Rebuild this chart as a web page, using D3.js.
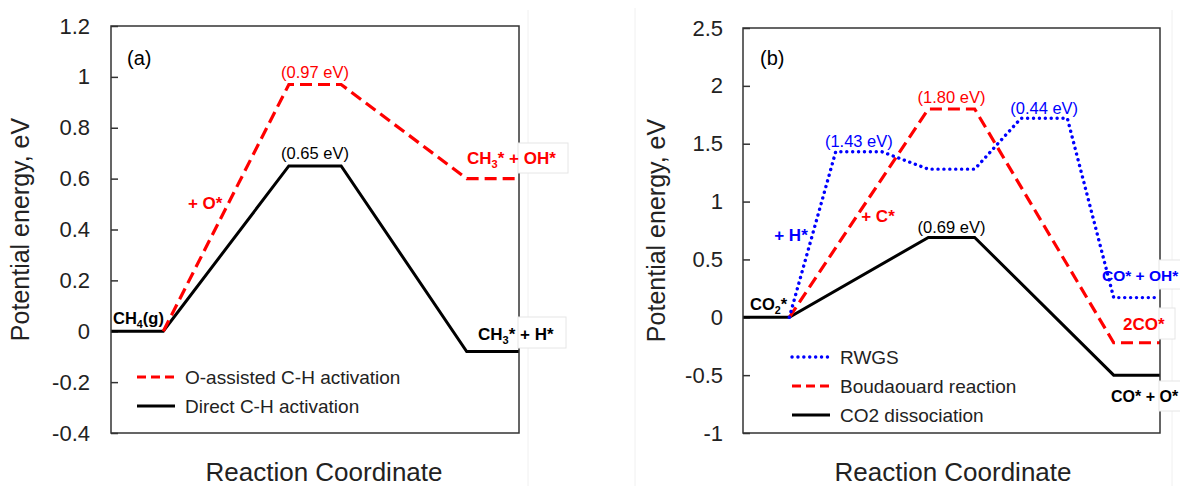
<!DOCTYPE html>
<html>
<head>
<meta charset="utf-8">
<script src="https://cdn.jsdelivr.net/npm/d3@7"></script>
<style>
  body { margin: 0; background: #fff; }
  svg { display: block; font-family: "Liberation Sans", Arial, sans-serif; }
</style>
</head>
<body>
<div id="chart"></div>
<script>
// ---- panel (a): CH4 activation ----
const stepsA = [0, 1, 3.4, 4.4, 6.8, 7.8];
const directCH = [0, 0, 0.65, 0.65, -0.08, -0.08];
const stepsAO = [1, 3.4, 4.4, 6.8, 7.8];
const oAssistedCH = [0, 0.97, 0.97, 0.6, 0.6];
const ticksA = [-0.4, -0.2, 0, 0.2, 0.4, 0.6, 0.8, 1, 1.2];
const legendA = ["O-assisted C-H activation", "Direct C-H activation"];

// ---- panel (b): CO2 activation ----
const stepsB = [0, 1, 4, 5, 8, 9];
const co2Diss = [0, 0, 0.69, 0.69, -0.5, -0.5];
const stepsBoud = [1, 4, 5, 8, 9];
const boudouard = [0, 1.8, 1.8, -0.22, -0.22];
const stepsRwgs = [1, 2, 3, 4, 5, 6, 7, 8, 9];
const rwgs = [0, 1.43, 1.43, 1.28, 1.28, 1.72, 1.72, 0.17, 0.17];
const ticksB = [-1, -0.5, 0, 0.5, 1, 1.5, 2, 2.5];
const legendB = ["RWGS", "Boudaouard reaction", "CO2 dissociation"];

const RED = '#ff0000', BLUE = '#0000ff', BLACK = '#000';
const styles = {
  solid: { color: BLACK, dash: null, cap: 'butt', width: 3 },
  dash: { color: RED, dash: '12,6', cap: 'butt', width: 3.2 },
  dot: { color: BLUE, dash: '0.1,5.8', cap: 'round', width: 3.4 }
};

const svg = d3.select('#chart').append('svg')
  .attr('width', 1180)
  .attr('height', 486);

// faint figure borders from the original pasted images
[[528, 10], [635, 8], [1172, 10]].forEach(([fx, fy]) => {
  svg.append('line').attr('x1', fx).attr('x2', fx).attr('y1', fy).attr('y2', 486)
    .attr('stroke', '#f0f0f0').attr('stroke-width', 1);
});

function makePanel(left, right, top, bottom, xMax, yDomain, ticks, pad) {
  const x = d3.scaleLinear().domain([0, xMax]).range([left, right]);
  const y = d3.scaleLinear().domain(yDomain).range([bottom, top]);
  const g = svg.append('g');
  g.append('g')
    .attr('transform', `translate(${left},0)`)
    .call(d3.axisLeft(y).tickValues(ticks).tickFormat(d => String(d))
      .tickSizeInner(-7).tickSizeOuter(0).tickPadding(pad))
    .call(a => a.select('.domain').remove())
    .call(a => a.selectAll('.tick line').attr('stroke', '#333').attr('stroke-width', 1.5))
    .call(a => a.selectAll('.tick text')
      .attr('font-size', 22)
      .attr('font-family', '"Liberation Sans", Arial, sans-serif')
      .attr('fill', '#222'));
  return { x, y, g, left, right, top, bottom };
}

function drawSeries(p, xs, es, style) {
  const st = styles[style];
  const line = d3.line().x(d => p.x(d[0])).y(d => p.y(d[1]));
  p.g.append('path')
    .datum(d3.zip(xs, es))
    .attr('d', line)
    .attr('fill', 'none')
    .attr('stroke', st.color)
    .attr('stroke-width', st.width)
    .attr('stroke-linecap', st.cap)
    .attr('stroke-linejoin', 'miter')
    .attr('stroke-dasharray', st.dash);
}

function drawFrame(p) {
  p.g.append('rect')
    .attr('x', p.left).attr('y', p.top)
    .attr('width', p.right - p.left).attr('height', p.bottom - p.top)
    .attr('fill', 'none').attr('stroke', '#333').attr('stroke-width', 1.5);
}

// text with optional subscript parts: [['CH'], ['3', 'sub'], ['* + H*']]
function label(g, x, y, parts, opt) {
  const t = g.append('text')
    .attr('x', x).attr('y', y)
    .attr('font-size', opt.size)
    .attr('font-weight', opt.bold ? 'bold' : 'normal')
    .attr('fill', opt.color || BLACK)
    .attr('text-anchor', opt.anchor || 'start');
  parts.forEach(pt => {
    if (pt[1] === 'sub') {
      t.append('tspan').attr('dy', 4).attr('font-size', opt.size * 0.65).text(pt[0]);
    } else {
      const ts = t.append('tspan').text(pt[0]);
      if (t.selectAll('tspan').size() > 1) ts.attr('dy', -4);
    }
  });
  return t;
}

function sideBox(g, x, y0, y1, x1) {
  g.append('rect')
    .attr('x', x - 1).attr('y', y0)
    .attr('width', x1 - x + 1).attr('height', y1 - y0)
    .attr('fill', '#fff').attr('stroke', '#e6e6e6').attr('stroke-width', 1);
}

function legend(g, x, y0, step, names, keys) {
  names.forEach((n, i) => {
    const st = styles[keys[i]];
    const yy = y0 + i * step;
    g.append('line')
      .attr('x1', x).attr('x2', x + 38).attr('y1', yy).attr('y2', yy)
      .attr('stroke', st.color).attr('stroke-width', st.width)
      .attr('stroke-linecap', st.cap)
      .attr('stroke-dasharray', keys[i] === 'dash' ? '9,5' : st.dash);
    g.append('text').attr('x', x + 48).attr('y', yy + 7)
      .attr('font-size', 19).attr('fill', '#222').text(n);
  });
}

function titles(p, cx, yTitleX) {
  const cy = (p.top + p.bottom) / 2;
  p.g.append('text')
    .attr('transform', `translate(${yTitleX},${cy}) rotate(-90)`)
    .attr('text-anchor', 'middle')
    .attr('font-size', 25).attr('fill', '#222')
    .text('Potential energy, eV');
  p.g.append('text')
    .attr('x', cx).attr('y', 481)
    .attr('text-anchor', 'middle')
    .attr('font-size', 26).attr('fill', '#222')
    .text('Reaction Coordinate');
}

// ================= panel (a) =================
const pa = makePanel(111, 519, 26, 433, 7.8, [-0.4, 1.2], ticksA, 21);
drawSeries(pa, stepsA, directCH, 'solid');
drawSeries(pa, stepsAO, oAssistedCH, 'dash');
drawFrame(pa);
titles(pa, 324, 29);
label(pa.g, 127, 65, [['(a)']], { size: 20 });

const midA = (stepsA[2] + stepsA[3]) / 2;
label(pa.g, pa.x(midA), pa.y(oAssistedCH[1]) - 7, [['(0.97 eV)']], { size: 16.5, color: RED, anchor: 'middle' });
label(pa.g, pa.x(midA), pa.y(directCH[2]) - 7, [['(0.65 eV)']], { size: 16.5, anchor: 'middle' });
label(pa.g, pa.x(1.8), pa.y(0.48), [['+ O*']], { size: 17, bold: true, color: RED, anchor: 'middle' });
label(pa.g, 113, pa.y(0) - 7, [['CH'], ['4', 'sub'], ['(g)']], { size: 16.5, bold: true });

sideBox(pa.g, pa.right, 143, 173, 568);
label(pa.g, 467, pa.y(oAssistedCH[4]) - 15, [['CH'], ['3', 'sub'], ['* + OH*']], { size: 17, bold: true, color: RED });
sideBox(pa.g, pa.right, 317, 348, 566);
label(pa.g, 478, pa.y(directCH[5]) - 12, [['CH'], ['3', 'sub'], ['* + H*']], { size: 17, bold: true });

legend(pa.g, 137, 377, 29, legendA, ['dash', 'solid']);

// ================= panel (b) =================
const pb = makePanel(743, 1160, 28, 433, 9, [-1, 2.5], ticksB, 20);
drawSeries(pb, stepsB, co2Diss, 'solid');
drawSeries(pb, stepsBoud, boudouard, 'dash');
drawSeries(pb, stepsRwgs, rwgs, 'dot');
drawFrame(pb);
titles(pb, 953, 665);
label(pb.g, 760, 65, [['(b)']], { size: 20 });

label(pb.g, pb.x(2.5), pb.y(rwgs[1]) - 5, [['(1.43 eV)']], { size: 16.5, color: BLUE, anchor: 'middle' });
label(pb.g, pb.x(4.5), pb.y(boudouard[1]) - 6, [['(1.80 eV)']], { size: 16.5, color: RED, anchor: 'middle' });
label(pb.g, pb.x(6.5), pb.y(rwgs[5]) - 4, [['(0.44 eV)']], { size: 16.5, color: BLUE, anchor: 'middle' });
label(pb.g, pb.x(4.5), pb.y(co2Diss[2]) - 4, [['(0.69 eV)']], { size: 16.5, anchor: 'middle' });
label(pb.g, 791, pb.y(0.66), [['+ H*']], { size: 17, bold: true, color: BLUE, anchor: 'middle' });
label(pb.g, 878, pb.y(0.82), [['+ C*']], { size: 17, bold: true, color: RED, anchor: 'middle' });
label(pb.g, 750, pb.y(0) - 7, [['CO'], ['2', 'sub'], ['*']], { size: 16.5, bold: true });

sideBox(pb.g, pb.right, 260, 289, 1181);
label(pb.g, 1102, 281, [['CO* + OH*']], { size: 15.5, bold: true, color: BLUE });
sideBox(pb.g, pb.right, 308, 339, 1175);
label(pb.g, 1123, 330, [['2CO*']], { size: 17, bold: true, color: RED });
sideBox(pb.g, pb.right, 381, 411, 1181);
label(pb.g, 1111, 402, [['CO* + O*']], { size: 16, bold: true });

legend(pb.g, 792, 357, 29, legendB, ['dot', 'dash', 'solid']);
</script>
</body>
</html>
